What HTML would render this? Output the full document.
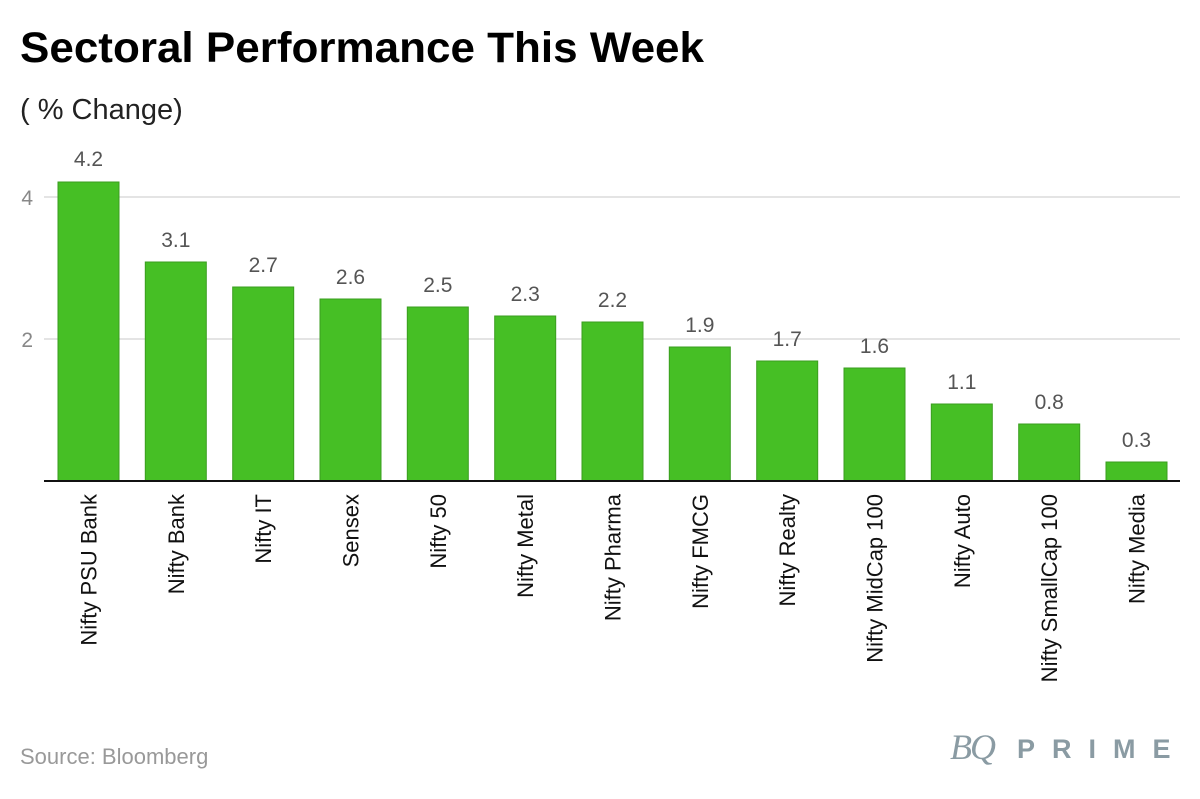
<!DOCTYPE html>
<html><head><meta charset="utf-8"><style>
body{margin:0;background:#fff;width:1200px;height:799px;overflow:hidden}
svg{display:block;font-family:"Liberation Sans",sans-serif}
</style></head><body>
<svg width="1200" height="799" viewBox="0 0 1200 799">
<text x="20" y="62" font-size="43" font-weight="bold" fill="#000" textLength="684" lengthAdjust="spacingAndGlyphs">Sectoral Performance This Week</text>
<text x="20" y="119" font-size="29" fill="#222">( % Change)</text>
<line x1="44" y1="197" x2="1180" y2="197" stroke="#dcdcdc" stroke-width="1.5"/>
<line x1="44" y1="339" x2="1180" y2="339" stroke="#dcdcdc" stroke-width="1.5"/>
<text x="33" y="205" font-size="21" fill="#888" text-anchor="end">4</text>
<text x="33" y="347" font-size="21" fill="#888" text-anchor="end">2</text>
<g fill="#46bf25" stroke="#3a9e1f" stroke-width="1">
<rect x="58" y="182" width="61" height="299"/>
<rect x="145.3" y="262" width="61" height="219"/>
<rect x="232.7" y="287" width="61" height="194"/>
<rect x="320" y="299" width="61" height="182"/>
<rect x="407.3" y="307" width="61" height="174"/>
<rect x="494.7" y="316" width="61" height="165"/>
<rect x="582" y="322" width="61" height="159"/>
<rect x="669.3" y="347" width="61" height="134"/>
<rect x="756.7" y="361" width="61" height="120"/>
<rect x="844" y="368" width="61" height="113"/>
<rect x="931.3" y="404" width="61" height="77"/>
<rect x="1018.7" y="424" width="61" height="57"/>
<rect x="1106" y="462" width="61" height="19"/>
</g>
<line x1="44" y1="481" x2="1180" y2="481" stroke="#111" stroke-width="2"/>
<g font-size="21" fill="#555" text-anchor="middle">
<text x="88.5" y="166">4.2</text>
<text x="175.8" y="247">3.1</text>
<text x="263.2" y="272">2.7</text>
<text x="350.5" y="284">2.6</text>
<text x="437.8" y="292">2.5</text>
<text x="525.2" y="301">2.3</text>
<text x="612.5" y="307">2.2</text>
<text x="699.8" y="332">1.9</text>
<text x="787.2" y="346">1.7</text>
<text x="874.5" y="353">1.6</text>
<text x="961.8" y="389">1.1</text>
<text x="1049.2" y="409">0.8</text>
<text x="1136.5" y="447">0.3</text>
</g>
<g font-size="22" fill="#111" text-anchor="end">
<text transform="translate(96.5,494) rotate(-90)">Nifty PSU Bank</text>
<text transform="translate(183.8,494) rotate(-90)">Nifty Bank</text>
<text transform="translate(271.2,494) rotate(-90)">Nifty IT</text>
<text transform="translate(358.5,494) rotate(-90)">Sensex</text>
<text transform="translate(445.8,494) rotate(-90)">Nifty 50</text>
<text transform="translate(533.2,494) rotate(-90)">Nifty Metal</text>
<text transform="translate(620.5,494) rotate(-90)">Nifty Pharma</text>
<text transform="translate(707.8,494) rotate(-90)">Nifty FMCG</text>
<text transform="translate(795.2,494) rotate(-90)">Nifty Realty</text>
<text transform="translate(882.5,494) rotate(-90)">Nifty MidCap 100</text>
<text transform="translate(969.8,494) rotate(-90)">Nifty Auto</text>
<text transform="translate(1057.2,494) rotate(-90)">Nifty SmallCap 100</text>
<text transform="translate(1144.5,494) rotate(-90)">Nifty Media</text>
</g>
<text x="20" y="764" font-size="22" fill="#999">Source: Bloomberg</text>
<text x="950" y="759" font-size="36" font-family="Liberation Serif,serif" font-style="italic" fill="#8a9ba3" letter-spacing="-2">BQ</text>
<text x="1017" y="758" font-size="27" font-weight="bold" fill="#8a9ba3" letter-spacing="17">PRIME</text>
</svg>
</body></html>
